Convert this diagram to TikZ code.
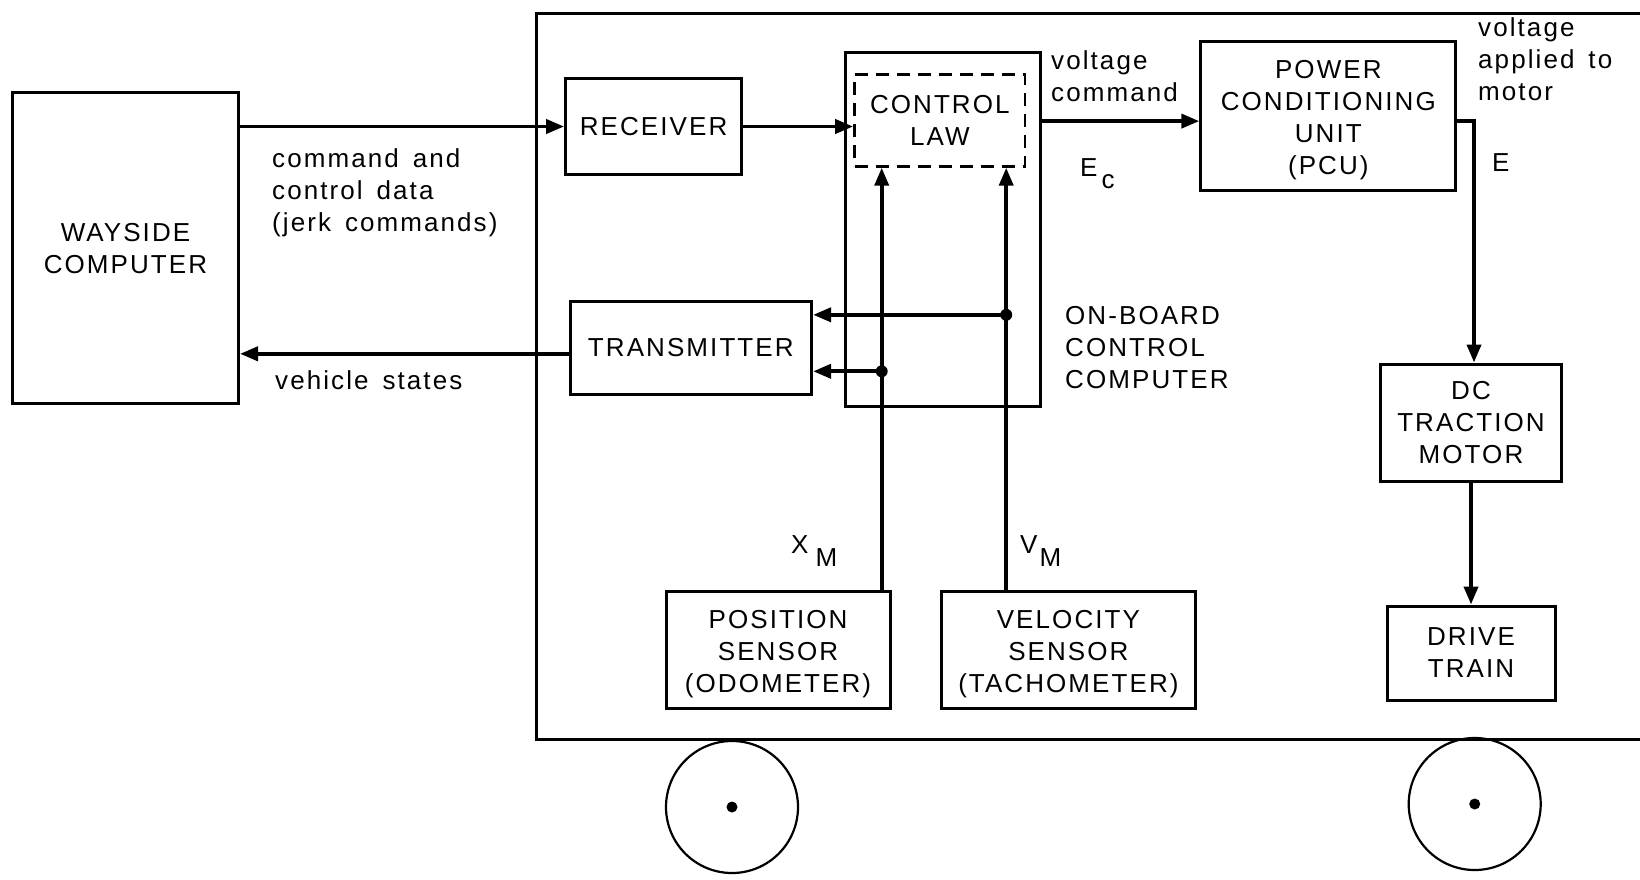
\documentclass[tikz,border=0pt]{standalone}
\usepackage{fontspec}
\newfontfamily\lbl{Liberation Sans}[LetterSpace=8,WordSpace=1.5]
\usetikzlibrary{arrows.meta}
\begin{document}
\begin{tikzpicture}[x=1pt,y=-1pt,
  box/.style={draw,line width=3pt,inner sep=0pt,align=center,font=\lbl\fontsize{26}{32}\selectfont},
  txt/.style={inner sep=0pt,align=left,font=\lbl\fontsize{26}{32}\selectfont},
  conn/.style={line width=3.8pt,-{Triangle[length=18pt,width=14pt]}},
  frame/.style={line width=3pt},
  dot/.style={circle,fill,inner sep=0pt,minimum size=12pt},
  wheel/.style={circle,draw,line width=2.2pt,minimum size=132pt,inner sep=0pt}]
\useasboundingbox (0,0) rectangle (1640,879);
% vehicle body
\draw[frame] (1640,13.6) -- (536.5,13.6) -- (536.5,739.5) -- (1640,739.5);
% wheels
\node[wheel] (w1) at (732,807) {};
\node[wheel] (w2) at (1474.7,804) {};
\node[dot,minimum size=11pt] at (w1.center) {};
\node[dot,minimum size=11pt] at (w2.center) {};
% blocks
\node[box,minimum width=226pt,minimum height=311pt] (way) at (125.5,248.4) {WAYSIDE\\COMPUTER};
\node[box,minimum width=176pt,minimum height=96pt] (rec) at (653.6,126.5) {RECEIVER};
\node[box,minimum width=241.6pt,minimum height=93pt] (trans) at (690.8,347.8) {TRANSMITTER};
\node[box,minimum width=195.7pt,minimum height=354.6pt] (ctl) at (942.9,229.6) {};
\node[box,dashed,dash pattern=on 13pt off 8pt,line width=2.8pt,minimum width=170.5pt,minimum height=92pt] (law) at (939.8,120.3) {CONTROL\\LAW};
\node[box,minimum width=255pt,minimum height=148.6pt] (pcu) at (1328.3,116.1) {\rule{0pt}{27pt}POWER\\CONDITIONING\\UNIT\\(PCU)};
\node[box,minimum width=181pt,minimum height=117pt] (mot) at (1471,422.5) {DC\\TRACTION\\MOTOR};
\node[box,minimum width=168pt,minimum height=94pt] (drv) at (1471,653) {DRIVE\\TRAIN};
\node[box,minimum width=224pt,minimum height=117pt] (pos) at (778,649.5) {\rule{0pt}{27pt}POSITION\\SENSOR\\(ODOMETER)};
\node[box,minimum width=254pt,minimum height=117pt] (vel) at (1068.4,649.5) {\rule{0pt}{27pt}VELOCITY\\SENSOR\\(TACHOMETER)};
% sensor feed points and junctions
\coordinate (xm) at (881.7,591);
\coordinate (vm) at (1006.2,591);
\coordinate (jv) at (1006.2,314.8);
\coordinate (jx) at (881.7,371.3);
\coordinate (ec) at ([yshift=-5pt]pcu.west);
\coordinate (eo) at ([yshift=-5pt]pcu.east);
\coordinate (ts) at ([yshift=-6pt]trans.west);
% connectors
\draw[conn] (rec.west -| way.east) -- (rec.west);
\draw[conn] (rec.east) -- (rec.east -| law.west);
\draw[conn] (ec -| ctl.east) -- (ec);
\draw[conn] (eo) -| ([xshift=3pt]mot.north);
\draw[conn] (mot.south) -- (drv.north);
\draw[conn] (ts) -- (ts -| way.east);
\draw[conn] (xm) -- (xm |- law.south);
\draw[conn] (vm) -- (vm |- law.south);
\draw[conn] (jv) -- (jv -| trans.east);
\draw[conn] (jx) -- (jx -| trans.east);
\node[dot] at (jv) {};
\node[dot] at (jx) {};
% labels
\node[txt,anchor=north west] (l1) at (272,148) {command and\\control data\\(jerk commands)};
\node[txt,anchor=north west] (l2) at (275,370) {vehicle states};
\node[txt,anchor=north west] (l3) at (1051,50) {voltage\\command};
\node[txt,anchor=north west] (l4) at (1478,17) {voltage\\applied to\\motor};
\node[txt,anchor=north west] (l5) at (1065,306) {ON-BOARD\\CONTROL\\COMPUTER};
\node[txt,anchor=north west] (l6) at (1080,158) {E\hspace{4pt}\raisebox{-12pt}{c}};
\node[txt,anchor=north west] (l7) at (1492,153) {E};
\node[txt,anchor=north west] (l8) at (791,535.5) {X\hspace{7pt}\raisebox{-13pt}{M}};
\node[txt,anchor=north west] (l9) at (1020,535.5) {V\hspace{2pt}\raisebox{-13pt}{M}};
\end{tikzpicture}
\end{document}
